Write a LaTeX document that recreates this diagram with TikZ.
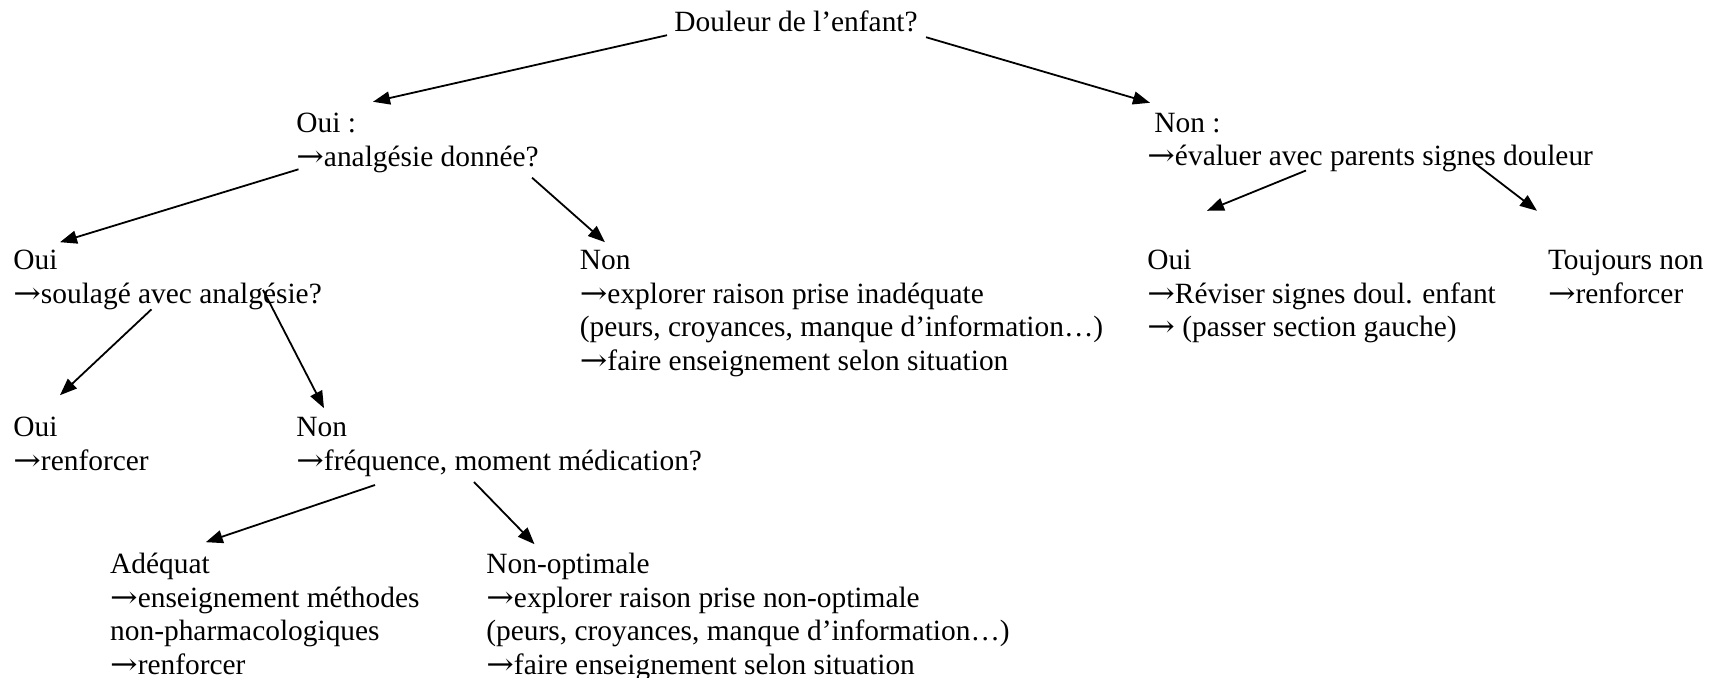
\documentclass[tikz,border=0pt]{standalone}
\usepackage{fontspec}
\setmainfont{Liberation Serif}
\newfontfamily\flfont{DejaVu Serif}
\newcommand\fl{\scalebox{1.12}[1]{\flfont →}}
\usetikzlibrary{arrows.meta,calc}
\tikzset{choixbox/.style={anchor=north west,inner sep=0pt,align=left,font=\fontsize{14.7}{16.75}\selectfont},choixarr/.style={-{Triangle[length=8.5pt,width=6.5pt]},line width=0.9pt}}

\begin{document}
\begin{tikzpicture}[x=0.5pt,y=-0.5pt]
\useasboundingbox (0,0) rectangle (1721,678);
\node[choixbox] (douleur) at (674,10.8) {Douleur de l’enfant?};
\node[choixbox] (oui) at (296,112.8) {Oui :\\\fl analgésie donnée?};
\node[choixbox] (non) at (1147,112.8) {\hspace{3.5pt}Non :\\\fl évaluer avec parents signes douleur};
\node[choixbox] (soulage) at (13,250) {Oui\\\fl soulagé avec analgésie?};
\node[choixbox] (inadeq) at (579.5,250) {Non\\\fl explorer raison prise inadéquate\\(peurs, croyances, manque d’information…)\\\fl faire enseignement selon situation};
\node[choixbox] (reviser) at (1147,250) {Oui\\\fl Réviser signes doul. enfant\\\fl{} (passer section gauche)};
\node[choixbox] (toujours) at (1547.6,250) {Toujours non\\\fl renforcer};
\node[choixbox] (renf) at (13,416.9) {Oui\\\fl renforcer};
\node[choixbox] (frequ) at (296,416.9) {Non\\\fl fréquence, moment médication?};
\node[choixbox] (adequat) at (109.8,553) {Adéquat\\\fl enseignement méthodes\\non-pharmacologiques\\\fl renforcer};
\node[choixbox] (nonopt) at (486,553) {Non-optimale\\\fl explorer raison prise non-optimale\\(peurs, croyances, manque d’information…)\\\fl faire enseignement selon situation};
\draw[choixarr] ($(douleur.south west)+(-7,2.5)$) -- ($(oui.north west)+(77,-11)$);
\draw[choixarr] ($(douleur.south east)+(8,4.5)$) -- ($(non.north west)+(3,-10)$);
\draw[choixarr] ($(oui.south west)+(2.5,-3.6)$) -- ($(soulage.north west)+(47,-7.8)$);
\draw[choixarr] ($(oui.south east)+(-7,4.8)$) -- ($(inadeq.north west)+(25.5,-7.8)$);
\draw[choixarr] ($(non.south west)+(159,-2.2)$) -- ($(reviser.north west)+(60,-39.2)$);
\draw[choixarr] ($(non.south west)+(327,-10.2)$) -- ($(toujours.north west)+(-10.6,-39.2)$);
\draw[choixarr] ($(soulage.south west)+(138.5,-0.8)$) -- ($(renf.north west)+(47,-21.7)$);
\draw[choixarr] ($(soulage.south west)+(250,-20.2)$) -- ($(frequ.north west)+(28,-8.7)$);
\draw[choixarr] ($(frequ.south west)+(79,8.3)$) -- ($(adequat.north west)+(96,-10.8)$);
\draw[choixarr] ($(frequ.south west)+(178,5.3)$) -- ($(nonopt.north west)+(48.5,-8.8)$);
\end{tikzpicture}
\end{document}
